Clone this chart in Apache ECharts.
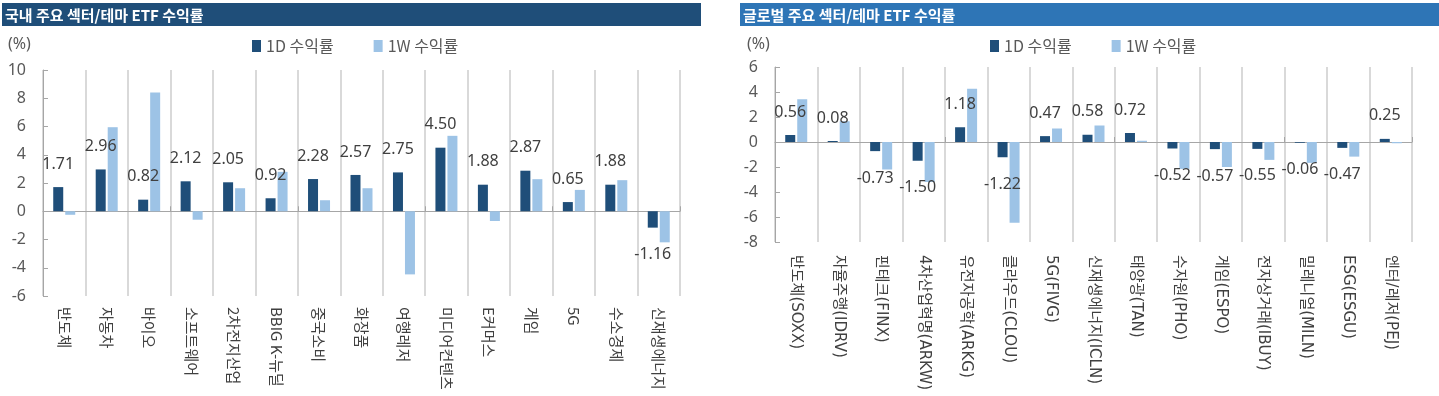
<!DOCTYPE html>
<html>
<head>
<meta charset="utf-8">
<script src="https://cdn.jsdelivr.net/npm/echarts@6/dist/echarts.min.js"></script>
<style>
  html, body { margin: 0; padding: 0; background: #fff; }
  #chart { width: 1439px; height: 396px; }
</style>
</head>
<body>
<div id="chart"></div>
<script>
// 국내 섹터/테마
const domesticCats = ['반도체', '자동차', '바이오', '소프트웨어', '2차전지산업', 'BBIG K-뉴딜', '중국소비', '화장품', '여행레저', '미디어컨텐츠', 'E커머스', '게임', '5G', '수소경제', '신재생에너지']
const domestic1D = [1.71, 2.96, 0.82, 2.12, 2.05, 0.92, 2.28, 2.57, 2.75, 4.50, 1.88, 2.87, 0.65, 1.88, -1.16]
const domestic1W = [-0.25, 5.95, 8.4, -0.6, 1.63, 2.79, 0.78, 1.63, -4.47, 5.34, -0.69, 2.27, 1.51, 2.2, -2.2]

// 글로벌 섹터/테마
const globalCats = ['반도체(SOXX)', '자율주행(IDRV)', '핀테크(FINX)', '4차산업혁명(ARKW)', '유전자공학(ARKG)', '클라우드(CLOU)', '5G(FIVG)', '신재생에너지(ICLN)', '태양광(TAN)', '수자원(PHO)', '게임(ESPO)', '전자상거래(IBUY)', '밀레니얼(MILN)', 'ESG(ESGU)', '엔터/레저(PEJ)']
const global1D = [0.56, 0.08, -0.73, -1.50, 1.18, -1.22, 0.47, 0.58, 0.72, -0.52, -0.57, -0.55, -0.06, -0.47, 0.25]
const global1W = [3.42, 1.66, -2.2, -3.2, 4.26, -6.46, 1.08, 1.32, 0.1, -2.15, -2.0, -1.43, -1.67, -1.17, -0.1]

const seriesNames = ['1D 수익률', '1W 수익률']

const KR = "'Noto Sans CJK KR', 'Noto Sans', sans-serif"
const KR_WIDE = "'DejaVu Sans', 'Noto Sans CJK KR', sans-serif"
const NUM = "'Liberation Sans Narrow', 'Noto Sans', sans-serif"
const DARK = '#1f4e79'
const LIGHT = '#9dc3e6'

// 1D 막대 라벨: 양수는 위, 음수는 아래
const labeled = (arr) => arr.map(v => ({
  value: v,
  label: { position: v < 0 ? 'bottom' : 'top', distance: v < 0 ? 19 : 15 }
}))

const grids = [
  { left: 43, top: 70, width: 637, height: 226 },
  { left: 775, top: 67, width: 637, height: 175 }
]

const labelAxis = (gi, cats, margin, family) => ({
  type: 'category', gridIndex: gi, data: cats, position: 'bottom',
  axisLine: { show: false, onZero: false },
  axisTick: { show: false },
  splitLine: { show: true, lineStyle: { color: '#d9d9d9', width: 2 } },
  axisLabel: {
    interval: 0, rotate: -90, margin: margin,
    color: '#404040', fontSize: 15, fontFamily: family
  }
})

const zeroAxis = (gi, cats) => ({
  type: 'category', gridIndex: gi, data: cats, position: 'bottom',
  axisLine: { show: true, onZero: true, lineStyle: { color: '#a6a6a6', width: 1 } },
  axisTick: { show: true, inside: true, length: 5, lineStyle: { color: '#a6a6a6' } },
  axisLabel: { show: false },
  splitLine: { show: false }
})

const valueAxis = (gi, min, max) => ({
  type: 'value', gridIndex: gi, min: min, max: max, interval: 2,
  axisLine: { show: true, lineStyle: { color: '#a6a6a6' } },
  axisTick: { show: true, inside: true, length: 5, lineStyle: { color: '#a6a6a6' } },
  splitLine: { show: false },
  axisLabel: { color: '#595959', fontSize: 16, fontFamily: NUM, margin: 17 }
})

const barPair = (xi, yi, d1, dw) => [
  {
    name: seriesNames[0], type: 'bar', xAxisIndex: xi, yAxisIndex: yi,
    data: labeled(d1), barWidth: 10, barGap: '20%',
    itemStyle: { color: DARK },
    label: {
      show: true, color: '#404040', fontSize: 16, fontFamily: NUM,
      formatter: (p) => p.value.toFixed(2)
    }
  },
  {
    name: seriesNames[1], type: 'bar', xAxisIndex: xi, yAxisIndex: yi,
    data: dw, barWidth: 10, barGap: '20%',
    itemStyle: { color: LIGHT }
  }
]

const legend = (left) => ({
  left: left, top: 33, itemWidth: 9, itemHeight: 12, itemGap: 40,
  icon: 'rect', data: seriesNames,
  textStyle: { color: '#595959', fontSize: 16, fontFamily: KR }
})

const titleBar = (x, w, color, text) => ([
  { type: 'rect', shape: { x: x, y: 3, width: w, height: 23 }, style: { fill: color }, silent: true },
  {
    type: 'text', x: x + 3, y: 15, silent: true,
    style: { text: text, fill: '#fff', font: `bold 15px ${KR}`, verticalAlign: 'middle' }
  }
])

const unitText = (x) => ({
  type: 'text', x: x, y: 44, silent: true,
  style: { text: '(%)', fill: '#595959', font: `16px ${NUM}`, verticalAlign: 'middle' }
})

const chart = echarts.init(document.getElementById('chart'))

chart.setOption({
  animation: false,
  grid: grids,
  legend: [legend(247), legend(985)],
  xAxis: [
    labelAxis(0, domesticCats, 11, KR),
    zeroAxis(0, domesticCats),
    labelAxis(1, globalCats, 13, KR_WIDE),
    zeroAxis(1, globalCats)
  ],
  yAxis: [valueAxis(0, -6, 10), valueAxis(1, -8, 6)],
  series: [
    ...barPair(0, 0, domestic1D, domestic1W),
    ...barPair(2, 1, global1D, global1W)
  ],
  graphic: [
    ...titleBar(2, 699, '#1f4e79', '국내 주요 섹터/테마 ETF 수익률'),
    ...titleBar(740, 699, '#2e75b6', '글로벌 주요 섹터/테마 ETF 수익률'),
    unitText(8),
    unitText(747)
  ]
})
</script>
</body>
</html>
